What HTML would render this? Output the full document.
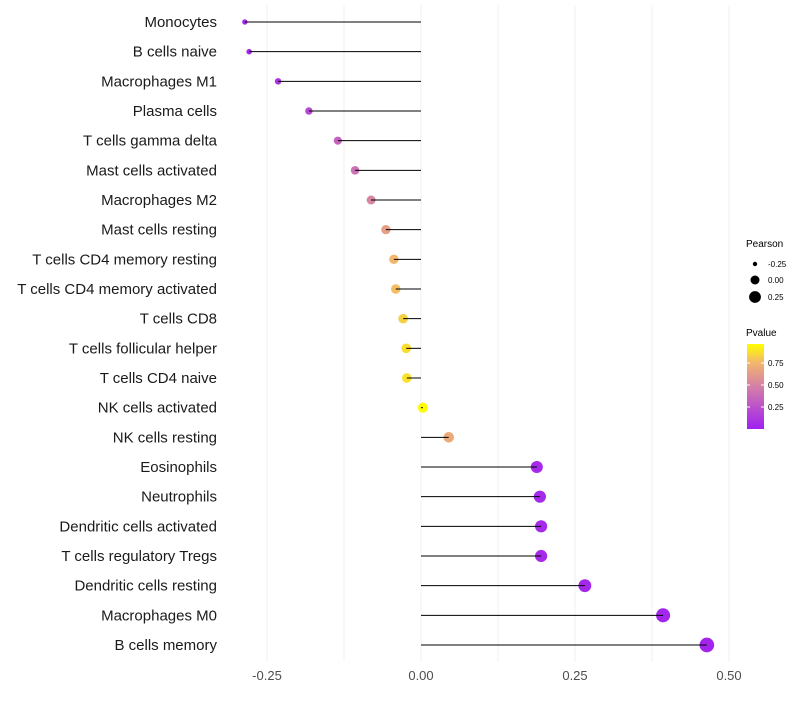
<!DOCTYPE html>
<html><head><meta charset="utf-8"><style>
body{margin:0;background:#fff;font-family:"Liberation Sans",sans-serif;}
</style></head><body>
<svg id="chart" width="800" height="700" xmlns="http://www.w3.org/2000/svg">
<defs><linearGradient id="pg" x1="0" y1="1" x2="0" y2="0">
<stop offset="0" stop-color="#a020f0"/><stop offset="0.5" stop-color="#d480a8"/><stop offset="0.78" stop-color="#f2b66c"/><stop offset="1" stop-color="#ffff00"/></linearGradient></defs>
<g id="grid"></g><g id="points"></g><g id="marks"></g><g id="labels"></g>
<g font-size="10" fill="#000">
<text x="746" y="247">Pearson</text>
<circle cx="755" cy="264" r="2.2" fill="#000"/><text x="768" y="267" font-size="8">-0.25</text>
<circle cx="755" cy="280" r="4.5" fill="#000"/><text x="768" y="283" font-size="8">0.00</text>
<circle cx="755" cy="297" r="5.9" fill="#000"/><text x="768" y="300" font-size="8">0.25</text>
<text x="746" y="336">Pvalue</text>
<rect x="747" y="344" width="17" height="85" fill="url(#pg)"/>
<g stroke="#fff" stroke-width="1"><line x1="747" y1="363" x2="750" y2="363"/><line x1="761" y1="363" x2="764" y2="363"/><line x1="747" y1="385" x2="750" y2="385"/><line x1="761" y1="385" x2="764" y2="385"/><line x1="747" y1="407" x2="750" y2="407"/><line x1="761" y1="407" x2="764" y2="407"/></g>
<text x="768" y="366" font-size="8">0.75</text><text x="768" y="388" font-size="8">0.50</text><text x="768" y="410" font-size="8">0.25</text>
</g>
</svg>
<script>
const categories=["Monocytes","B cells naive","Macrophages M1","Plasma cells","T cells gamma delta","Mast cells activated","Macrophages M2","Mast cells resting","T cells CD4 memory resting","T cells CD4 memory activated","T cells CD8","T cells follicular helper","T cells CD4 naive","NK cells activated","NK cells resting","Eosinophils","Neutrophils","Dendritic cells activated","T cells regulatory  Tregs","Dendritic cells resting","Macrophages M0","B cells memory"];
const pearson=[-0.286,-0.279,-0.232,-0.182,-0.135,-0.107,-0.081,-0.057,-0.044,-0.041,-0.029,-0.024,-0.023,0.003,0.045,0.188,0.193,0.195,0.195,0.266,0.393,0.464];
const pvalue=[0.04,0.05,0.1,0.22,0.35,0.42,0.52,0.66,0.78,0.8,0.86,0.9,0.91,0.99,0.72,0.05,0.05,0.05,0.05,0.04,0.03,0.02];
const xTicks=[-0.25,0,0.25,0.5];
const xTickLabels=["-0.25","0.00","0.25","0.50"];
const NS="http://www.w3.org/2000/svg";
const x=v=>421+v*616;
const y=i=>22+i*(623/21);
const rad=p=>Math.sqrt(Math.max(4,25+62*p));
function col(p){const st=[[0,[160,32,240]],[0.5,[212,128,168]],[0.78,[242,182,108]],[1,[255,255,0]]];
for(let k=1;k<st.length;k++){if(p<=st[k][0]||k==st.length-1){const a=st[k-1],b=st[k];const t=Math.min(1,Math.max(0,(p-a[0])/(b[0]-a[0])));return `rgb(${a[1].map((c,j)=>Math.round(c+(b[1][j]-c)*t)).join(",")})`;}}}
function mk(tag,attrs,parent){const e=document.createElementNS(NS,tag);for(const k in attrs)e.setAttribute(k,attrs[k]);parent.appendChild(e);return e;}
const grid=document.getElementById('grid'),marks=document.getElementById('marks'),points=document.getElementById('points'),labels=document.getElementById('labels');
for(let v=-0.375;v<=0.626;v+=0.125){if(x(v)<236||x(v)>790)continue;const l=mk('line',{x1:x(v),x2:x(v),y1:5,y2:662,stroke:'#f0f0f0','stroke-width':1},grid);

}
categories.forEach((c,i)=>{
const d=mk('circle',{cx:x(pearson[i]),cy:y(i),r:rad(pearson[i]),fill:col(pvalue[i])},points);


const s=mk('line',{x1:x(0),x2:x(pearson[i]),y1:y(i),y2:y(i),stroke:'#000','stroke-width':1},marks);


const t=mk('text',{x:217,y:y(i)+5,'text-anchor':'end','font-size':15,fill:'#1a1a1a'},labels);
t.textContent=c;


});
xTicks.forEach((v,i)=>{const t=mk('text',{x:x(v),y:680,'text-anchor':'middle','font-size':13,fill:'#4d4d4d'},labels);
t.textContent=xTickLabels[i];

});
</script>
</body></html>
